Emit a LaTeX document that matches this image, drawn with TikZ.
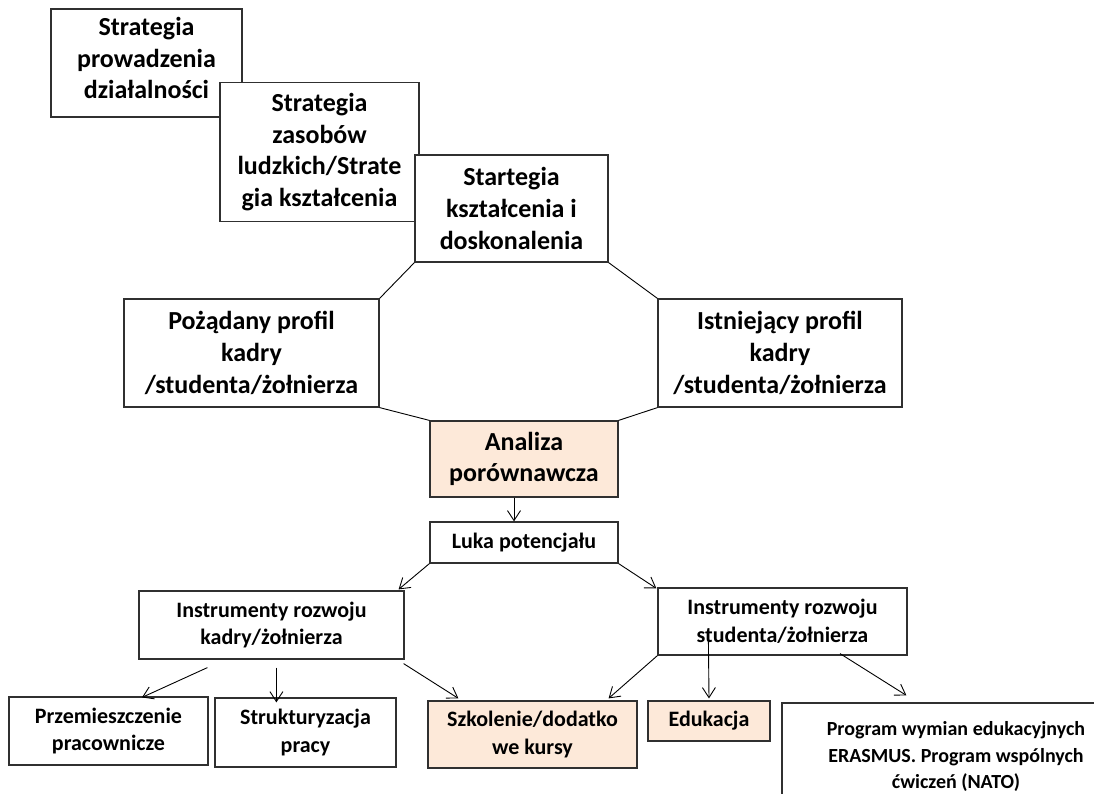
\documentclass[tikz,border=0pt]{standalone}
\usepackage{fontspec}
\setmainfont{Carlito}
\usetikzlibrary{arrows.meta,calc}
\definecolor{peach}{HTML}{FDE9D9}
\definecolor{boxline}{HTML}{303030}
\tikzset{
  bx/.style={draw=boxline, line width=1.2pt, fill=white, inner sep=0pt, align=center},
  big/.style={font=\fontsize{26}{31.7}\selectfont\bfseries},
  mid/.style={font=\fontsize{22}{27.5}\selectfont\bfseries},
  sml/.style={font=\fontsize{20}{26.5}\selectfont\bfseries},
  hl/.style={fill=peach},
  conn/.style={draw=black, line width=0.9pt},
  arr/.style={conn, -{Straight Barb[length=10pt,width=13pt]}}
}
\begin{document}
\begin{tikzpicture}[x=1pt,y=-1pt]
\useasboundingbox[fill=white] (0,0) rectangle (1094,794);
\clip (0,0) rectangle (1094,794);
% top cascade
\node[bx,minimum width=191pt,minimum height=108pt] (b1) at (146.5,63) {};
\node[big,align=center,inner sep=0pt] (b1t) at ($(b1.center)+(0,-5)$) {Strategia\\prowadzenia\\działalności};
\node[bx,big,minimum width=199pt,minimum height=139pt] (b2) at (319.5,152) {Strategia\\zasobów\\ludzkich/Strate\\gia kształcenia};
\node[bx,big,minimum width=193pt,minimum height=107pt] (b3) at (511.5,208.5) {Startegia\\kształcenia i\\doskonalenia};
% profiles
\node[bx,big,minimum width=255pt,minimum height=108pt] (poz) at (251.5,353) {Pożądany profil\\kadry\\/studenta/żołnierza};
\node[bx,big,minimum width=244pt,minimum height=108pt] (ist) at (780,353) {Istniejący profil\\kadry\\/studenta/żołnierza};
\node[bx,big,hl,minimum width=188pt,minimum height=76pt] (ana) at (524,459) {Analiza\\porównawcza};
\node[bx,mid,minimum width=188pt,minimum height=41pt] (luka) at (524,542.5) {Luka potencjału};
\node[bx,mid,minimum width=265pt,minimum height=68pt] (kad) at (271.5,625) {Instrumenty rozwoju\\kadry/żołnierza};
\node[bx,mid,minimum width=249pt,minimum height=67pt] (stu) at (782.5,621.5) {Instrumenty rozwoju\\studenta/żołnierza};
% bottom row
\node[bx,mid,minimum width=199pt,minimum height=68pt] (prz) at (108.5,731) {Przemieszczenie\\pracownicze};
\node[bx,mid,minimum width=181pt,minimum height=69pt] (str) at (305.5,732.5) {Strukturyzacja\\pracy};
\node[bx,mid,hl,minimum width=209pt,minimum height=67pt] (szk) at (532.5,734.5) {Szkolenie/dodatko\\we kursy};
\node[bx,mid,hl,minimum width=122pt,minimum height=40pt] (edu) at (709,721) {Edukacja};
\node[bx,sml,minimum width=348pt,minimum height=107pt] (prog) at (956,756.5) {Program wymian edukacyjnych\\ERASMUS. Program wspólnych\\ćwiczeń (NATO)};
% octagon links
\draw[conn] (poz.north east) -- (b3.south west);
\draw[conn] (poz.south east) -- (ana.north west);
\draw[conn] (b3.south east) -- (ist.north west);
\draw[conn] (ana.north east) -- (ist.south west);
% arrows
\draw[arr] ($(ana.south)+(-10,0)$) -- ($(luka.north)+(-10,0)$);
\draw[arr] (luka.south west) -- ($(kad.north east)+(-6,-1)$);
\draw[arr] (luka.south east) -- ($(stu.north west)+(-1,1)$);
\coordinate (k1) at ($(kad.south west)+(69,8)$);
\coordinate (k2) at ($(kad.south west)+(138,8)$);
\coordinate (k3) at ($(kad.south east)+(-1,4)$);
\draw[arr] (k1) -- ($(prz.north)+(33.5,1)$);
\draw[arr] (k2) -- ($(str.north west)+(62,5)$);
\draw[arr] (k3) -- ($(szk.north west)+(31,-2)$);
\draw[arr] (stu.south west) -- ($(szk.north east)+(-29,-2)$);
\coordinate (s1) at ($(stu.south west)+(51,-15)$);
\draw[arr] (s1) -- ($(edu.north)+(0,-2)$);
\coordinate (s2) at ($(stu.south)+(57.5,-2)$);
\draw[arr] (s2) -- ($(prog.north west)+(125,-7)$);
\end{tikzpicture}
\end{document}
